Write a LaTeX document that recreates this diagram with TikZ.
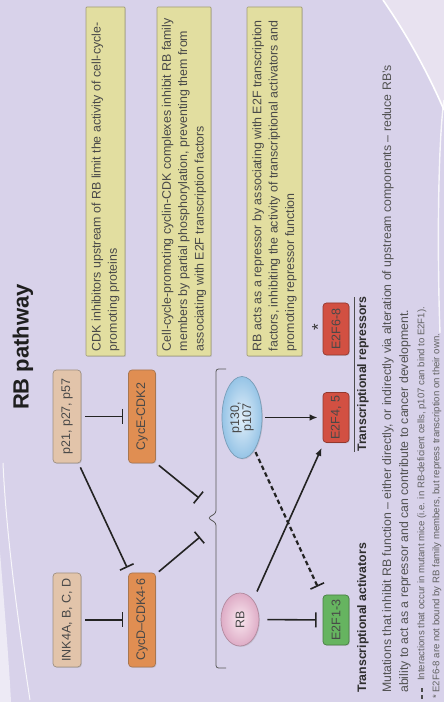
\documentclass[tikz,border=0pt]{standalone}
\usepackage{fontspec}
\setmainfont{Liberation Sans}
\usetikzlibrary{arrows.meta,shapes.geometric,shadows,calc}
\definecolor{bgc}{RGB}{216,210,234}
\definecolor{bgl}{RGB}{236,230,242}
\definecolor{ylw}{RGB}{250,248,214}
\definecolor{ylwd}{RGB}{226,222,160}
\definecolor{ylwb}{RGB}{160,156,118}
\definecolor{bei}{RGB}{246,230,212}
\definecolor{beid}{RGB}{226,196,170}
\definecolor{beib}{RGB}{158,144,130}
\definecolor{org}{RGB}{244,192,140}
\definecolor{orgd}{RGB}{224,142,82}
\definecolor{orgb}{RGB}{168,118,80}
\definecolor{pnk}{RGB}{244,214,228}
\definecolor{pnkd}{RGB}{222,172,198}
\definecolor{blu}{RGB}{206,228,246}
\definecolor{blud}{RGB}{150,196,230}
\definecolor{grn}{RGB}{168,220,158}
\definecolor{grnd}{RGB}{102,180,96}
\definecolor{rd}{RGB}{240,140,122}
\definecolor{rdd}{RGB}{210,80,66}
\definecolor{txt}{RGB}{72,72,72}
\definecolor{lnc}{RGB}{35,35,35}
\tikzset{
  shade box/.style={rounded corners=3.5pt, line width=0.7pt, inner sep=0pt,
    font=\fontsize{12.5}{14}\selectfont, text=txt,
    drop shadow={shadow xshift=0.9pt, shadow yshift=-0.9pt, opacity=0.25}},
  beibox/.style={shade box, draw=beib, top color=beid, middle color=bei, bottom color=beid},
  orgbox/.style={shade box, draw=orgb, top color=orgd, middle color=org, bottom color=orgd},
  grnbox/.style={shade box, draw=grnd!70!black, top color=grnd, middle color=grn, bottom color=grnd},
  rdbox/.style={shade box, draw=rdd!70!black, top color=rdd, middle color=rd, bottom color=rdd},
  ylwbox/.style={shade box, rounded corners=1pt, draw=ylwb, top color=ylwd, middle color=ylw,
    bottom color=ylwd, minimum width=349pt},
  ylwtext/.style={inner sep=0pt, align=left, text=txt, font=\fontsize{12.4}{16.3}\selectfont},
  oval/.style={ellipse, line width=0.7pt, inner sep=0pt, font=\fontsize{12.5}{12}\selectfont,
    text=txt, align=center, drop shadow={shadow xshift=0.9pt, shadow yshift=-0.9pt, opacity=0.25}},
  inh/.style={draw=lnc, line width=1.6pt, -{Bar[width=15pt, line width=1.6pt]}},
  act/.style={draw=lnc, line width=1.6pt, -{Latex[length=8pt, width=6.5pt]}},
  dinh/.style={draw=lnc, line width=2.2pt, dash pattern=on 4.5pt off 3pt,
    -{Bar[width=15pt, line width=1.6pt]}},
  lbl/.style={font=\bfseries\fontsize{12.3}{14}\selectfont, text=black!82, inner sep=0pt},
  bodytext/.style={font=\fontsize{12.3}{17}\selectfont, text=black!68, inner sep=0pt, align=left},
  foot/.style={font=\fontsize{9.6}{12}\selectfont, text=black!62, inner sep=0pt},
}
\begin{document}
\begin{tikzpicture}[x=1pt,y=1pt]
\begin{scope}[rotate=90, transform shape]
\useasboundingbox (0,0) rectangle (702,-444);
% background
\fill[bgc] (0,0) rectangle (702,-444);
\fill[bgl, opacity=0.8] (702,-383) .. controls (660,-412) and (620,-432) .. (592,-444) -- (702,-444) -- cycle;
\draw[white, line width=1.6pt] (702,-383) .. controls (660,-412) and (620,-432) .. (592,-444);
\draw[white, line width=1.4pt, opacity=0.8] (602,-444) .. controls (560,-438) and (450,-437) .. (369,-440);
\draw[white, line width=1pt, opacity=0.8] (239,-3) .. controls (170,-6) and (80,-18) .. (2,-30);
\fill[white, opacity=0.55] (0,0) -- (150,0) .. controls (100,-4) and (40,-9) .. (0,-11) -- cycle;

% title
\node[font=\bfseries\fontsize{22}{26}\selectfont, text=black!88, inner sep=0pt] (title) at (355,-23) {RB pathway};

% explanation boxes
\node[ylwbox, minimum height=39pt] (n1) at (520.5,-105.5) {};
\node[ylwtext, anchor=west] (t1) at ([xshift=5pt]n1.west)
  {CDK inhibitors upstream of RB limit the activity of cell-cycle-\\promoting proteins};
\node[ylwbox, minimum height=54pt] (n2) at (520.5,-184) {};
\node[ylwtext, anchor=west] (t2) at ([xshift=5pt]n2.west)
  {Cell-cycle-promoting cyclin-CDK complexes inhibit RB family\\members by partial phosphorylation, preventing them from\\associating with E2F transcription factors};
\node[ylwbox, minimum height=55pt] (n3) at (520.5,-274.5) {};
\node[ylwtext, anchor=west] (t3) at ([xshift=5pt]n3.west)
  {RB acts as a repressor by associating with E2F transcription\\factors, inhibiting the activity of transcriptional activators and\\promoting repressor function};

% pathway nodes
\node[beibox, minimum width=94pt, minimum height=28pt] (ink) at (82,-67) {INK4A, B, C, D};
\node[orgbox, minimum width=94pt, minimum height=27pt] (cycd) at (82,-142) {CycD–CDK4-6};
\node[beibox, minimum width=93pt, minimum height=28pt] (p21) at (285.5,-67) {p21, p27, p57};
\node[orgbox, minimum width=93pt, minimum height=27pt] (cyce) at (285.5,-142) {CycE-CDK2};
\node[oval, draw=pnkd!80!black, inner color=pnk!60!white, outer color=pnkd, minimum width=53pt, minimum height=38pt] (rb) at (82.5,-240) {RB};
\node[oval, draw=blud!80!black, inner color=blu!60!white, outer color=blud, minimum width=82pt, minimum height=40pt] (p130) at (284.5,-242) {p130,\\p107};
\node[grnbox, minimum width=50pt, minimum height=26pt] (e2f13) at (82,-336) {E2F1-3};
\node[rdbox, minimum width=50pt, minimum height=26pt] (e2f45) at (284.5,-336) {E2F4, 5};
\node[rdbox, minimum width=52pt, minimum height=26pt] (e2f68) at (373,-336) {E2F6-8};
\node[font=\fontsize{17}{17}\selectfont, text=black!80, inner sep=0pt] (ast) at (375,-318) {*};

% brace
\draw[black!65, line width=0.8pt, rounded corners=2.5pt]
  (34,-226) -- (34,-216) -- (179,-216) -- (184,-208) -- (189,-216) -- (333,-216) -- (333,-226);
\coordinate (b1) at (165,-200);
\coordinate (b2) at (204,-199);

% connectors
\draw[inh, shorten <=4pt, shorten >=5pt] (ink) -- (cycd);
\draw[inh, shorten <=4pt, shorten >=5pt] (p21) -- (cyce);
\draw[inh] ([shift={(-4,1)}]p21.south west) -- ([shift={(5,1)}]cycd.north east);
\draw[inh] ([shift={(1,-3)}]cycd.south east) -- (b1);
\draw[inh] ([shift={(-2,-3)}]cyce.south west) -- (b2);
\draw[inh, shorten <=8pt, shorten >=6pt] (rb.south) -- (e2f13.north);
\draw[act] ([shift={(28,-17)}]rb.center) -- ([shift={(-5,1)}]e2f45.north west);
\draw[act, shorten <=3pt, shorten >=5pt] (p130.south) -- (e2f45.north);
\draw[dinh] ([shift={(-2,-1)}]p130.201) -- ([shift={(8,5)}]e2f13.north east);

% labels
\draw[black!70, line width=0.9pt] (250,-354) coordinate (sepA) -- (405,-354) coordinate (sepB);
\node[lbl, anchor=west] (ta) at (9,-363) {Transcriptional activators};
\node[lbl, anchor=west] (tr) at (250,-363) {Transcriptional repressors};

% body text
\node[bodytext, anchor=west] (body) at (9,-396.5)
  {Mutations that inhibit RB function – either directly, or indirectly via alteration of upstream components – reduce RB's\\ability to act as a repressor and can contribute to cancer development.};
\draw[black!70, line width=2.2pt, dash pattern=on 4pt off 3pt] (3,-422) coordinate (dA) -- (14,-422) coordinate (dB);
\node[foot, anchor=west] (f1) at (21,-422) {Interactions that occur in mutant mice (i.e. in RB-deficient cells, p107 can bind to E2F1).};
\node[foot, anchor=west] (f2) at (3,-437) {* E2F6-8 are not bound by RB family members, but repress transcription on their own.};
\end{scope}
\end{tikzpicture}
\end{document}
